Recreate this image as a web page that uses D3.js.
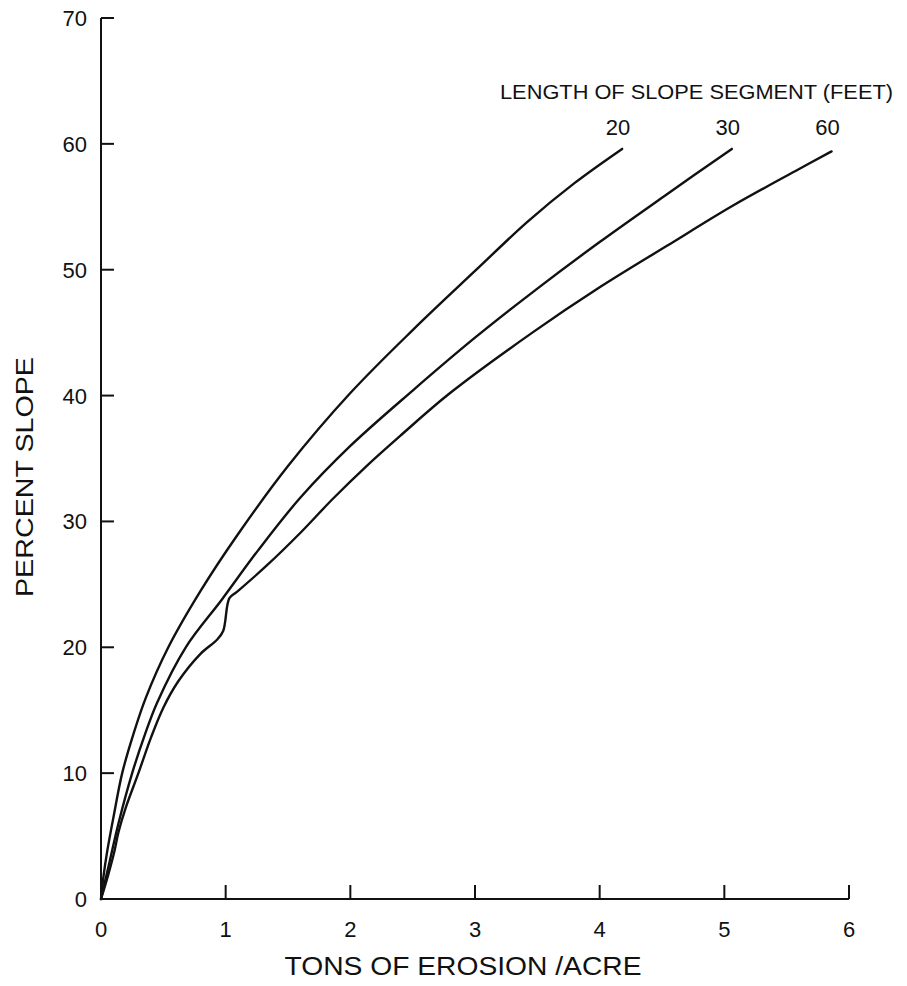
<!DOCTYPE html>
<html>
<head>
<meta charset="utf-8">
<script src="https://cdn.jsdelivr.net/npm/d3@7/dist/d3.min.js"></script>
<style>
  html, body { margin: 0; padding: 0; background: #fff; }
  svg { display: block; }
  text { font-family: "Liberation Sans", Arial, sans-serif; fill: #111; }
</style>
</head>
<body>
<svg id="chart" width="907" height="986"></svg>
<script>
// Erosion (tons/acre) against percent slope, one curve per slope-segment length.
const xTicks = [0, 1, 2, 3, 4, 5, 6];
const yTicks = [0, 10, 20, 30, 40, 50, 60, 70];
const seriesNames = ["20", "30", "60"];

// [tons of erosion per acre, percent slope]
const length20 = [
  [0, 0], [0.02, 1.8], [0.05, 3.8], [0.1, 6.5], [0.17, 10], [0.26, 13.1],
  [0.36, 16], [0.54, 20], [0.8, 24.5], [1.1, 29], [1.5, 34.4], [2.0, 40.2],
  [2.5, 45.2], [3.0, 49.9], [3.42, 53.8], [3.8, 56.9], [4.18, 59.6]
];
const length30 = [
  [0, 0], [0.07, 3], [0.14, 6], [0.25, 10], [0.35, 13], [0.45, 15.6],
  [0.68, 20], [0.97, 23.8], [1.26, 27.7], [1.6, 31.9], [2.0, 36.0],
  [2.5, 40.4], [3.0, 44.6], [3.5, 48.5], [4.0, 52.2], [4.54, 56.0], [5.06, 59.6]
];
const length60 = [
  [0, 0], [0.06, 2], [0.11, 3.9], [0.14, 5.3], [0.2, 7.3], [0.3, 10],
  [0.4, 12.8], [0.5, 15.2], [0.62, 17.3], [0.8, 19.5], [0.93, 20.6],
  [0.98, 21.3], [1.03, 23.9], [1.09, 24.4], [1.33, 26.5], [1.6, 29.1],
  [1.86, 31.8], [2.13, 34.4], [2.4, 36.8], [2.8, 40.2], [3.46, 45],
  [4.0, 48.6], [4.54, 51.9], [5.07, 55.1], [5.6, 58], [5.86, 59.4]
];
const seriesValues = [length20, length30, length60];

const svg = d3.select("#chart");
const x = d3.scaleLinear().domain([0, 6]).range([101, 849]);
const y = d3.scaleLinear().domain([0, 70]).range([899, 18]);

// Axes: ticks point inward, labels drawn separately
const axisG = svg.append("g").attr("stroke", "#111").attr("stroke-width", 2).attr("fill", "none");
axisG.append("line").attr("x1", x(0)).attr("x2", x(0)).attr("y1", y(0)).attr("y2", y(70));
axisG.append("line").attr("x1", x(0)).attr("x2", x(6)).attr("y1", y(0)).attr("y2", y(0));

axisG.selectAll(".yt").data(yTicks.filter(d => d > 0)).join("line")
  .attr("x1", x(0)).attr("x2", x(0) + 13)
  .attr("y1", d => y(d)).attr("y2", d => y(d));
axisG.selectAll(".xt").data(xTicks.filter(d => d > 0)).join("line")
  .attr("x1", d => x(d)).attr("x2", d => x(d))
  .attr("y1", y(0)).attr("y2", y(0) - 14);

svg.append("g").selectAll("text").data(yTicks).join("text")
  .attr("x", 87).attr("y", d => y(d) + 8)
  .attr("text-anchor", "end").attr("font-size", 22)
  .text(d => d);

svg.append("g").selectAll("text").data(xTicks).join("text")
  .attr("x", d => x(d)).attr("y", 937)
  .attr("text-anchor", "middle").attr("font-size", 22)
  .text(d => d);

// Axis titles
svg.append("text")
  .attr("x", 463).attr("y", 975)
  .attr("text-anchor", "middle").attr("font-size", 25)
  .attr("textLength", 357).attr("lengthAdjust", "spacingAndGlyphs")
  .text("TONS OF EROSION /ACRE");

svg.append("text")
  .attr("transform", "translate(33,477) rotate(-90)")
  .attr("text-anchor", "middle").attr("font-size", 23)
  .attr("textLength", 240).attr("lengthAdjust", "spacingAndGlyphs")
  .text("PERCENT  SLOPE");

// Curves
const line = d3.line().x(d => x(d[0])).y(d => y(d[1])).curve(d3.curveCatmullRom.alpha(0.5));
svg.append("g").selectAll("path").data(seriesValues).join("path")
  .attr("d", line)
  .attr("fill", "none").attr("stroke", "#111").attr("stroke-width", 2.4)
  .attr("stroke-linejoin", "round").attr("stroke-linecap", "round");

// Legend title and curve labels at each curve's end
svg.append("text")
  .attr("x", 500).attr("y", 99)
  .attr("font-size", 20)
  .attr("textLength", 393).attr("lengthAdjust", "spacingAndGlyphs")
  .text("LENGTH OF SLOPE SEGMENT (FEET)");

svg.append("g").selectAll("text").data(seriesNames).join("text")
  .attr("x", (d, i) => x(seriesValues[i][seriesValues[i].length - 1][0]) - 4)
  .attr("y", 135)
  .attr("text-anchor", "middle").attr("font-size", 22)
  .text(d => d);
</script>
</body>
</html>
